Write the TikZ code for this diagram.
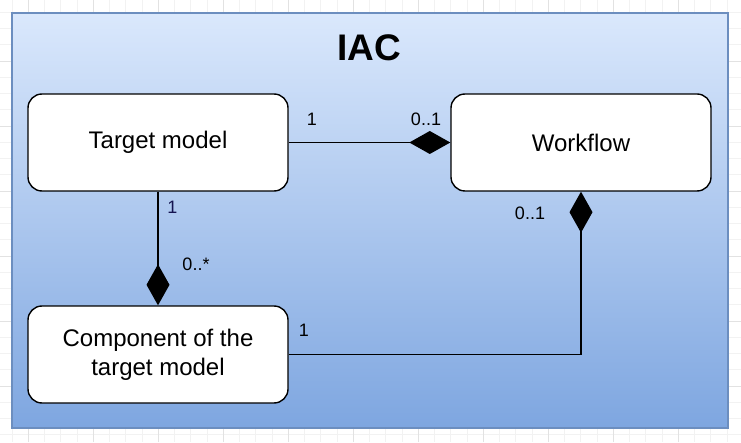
\documentclass[tikz,border=0pt]{standalone}
\usepackage{fontspec}
\setmainfont{Liberation Sans}
\usepackage{tikz}
\usetikzlibrary{arrows.meta}
\definecolor{iacTop}{RGB}{218,232,252}
\definecolor{iacBottom}{RGB}{126,166,224}
\definecolor{iacLine}{RGB}{108,142,191}
\definecolor{gridMinor}{RGB}{242,242,242}
\definecolor{gridMajor}{RGB}{226,226,226}
\definecolor{multNavy}{RGB}{20,20,80}
\tikzstyle{classbox} = [rectangle, rounded corners=14pt,
minimum width=260pt,
minimum height=97pt,
text centered,
align=center,
line width=1.4pt,
draw=black,
fill=white,
font=\fontsize{24}{29}\selectfont]
\tikzstyle{mult} = [font=\fontsize{18}{21}\selectfont, inner sep=0pt]
\tikzstyle{compo} = [line width=1.4pt, -{Diamond[length=41pt,width=23pt]}]

\begin{document}
\begin{tikzpicture}[x=1pt, y=1pt]
        \useasboundingbox (0,0) rectangle (741,442);
        % background grid
        \foreach \i in {0,...,45} \draw[gridMinor, line width=0.7pt] (12.05+16.25*\i,0) -- (12.05+16.25*\i,442);
        \foreach \j in {0,...,27} \draw[gridMinor, line width=0.7pt] (0,7.25+16.25*\j) -- (741,7.25+16.25*\j);
        \foreach \i in {0,...,11} \draw[gridMajor, line width=0.8pt] (28.3+65*\i,0) -- (28.3+65*\i,442);
        \foreach \j in {0,...,7} \draw[gridMajor, line width=0.8pt] (0,-9+65*\j) -- (741,-9+65*\j);
        % container
        \draw[iacLine, line width=1.4pt, top color=iacTop, bottom color=iacBottom] (12,14) rectangle (728,429);
        \node (title) [anchor=base, font=\fontsize{37}{44}\selectfont\bfseries] at (369,381) {IAC};
        % classes
        \node (tm) [classbox] at (158,299.5) {Target model};
        \node (wf) [classbox] at (581,299.5) {Workflow};
        \node (comp) [classbox] at (158,87.5) {Component of the\\target model};
        % compositions
        \draw [compo] (tm.east) -- (wf.west);
        \draw [compo] (tm.south) -- (comp.north);
        \draw [compo] (comp.east) -| (wf.south);
        % multiplicities
        \node (m1) [mult] at (312,323) {1};
        \node (m2) [mult] at (426,323) {0..1};
        \node (m3) [mult, text=multNavy] at (172.5,235) {1};
        \node (m4) [mult] at (196,178) {0..*};
        \node (m5) [mult] at (304,112) {1};
        \node (m6) [mult] at (530,229) {0..1};
    \end{tikzpicture}
\end{document}
